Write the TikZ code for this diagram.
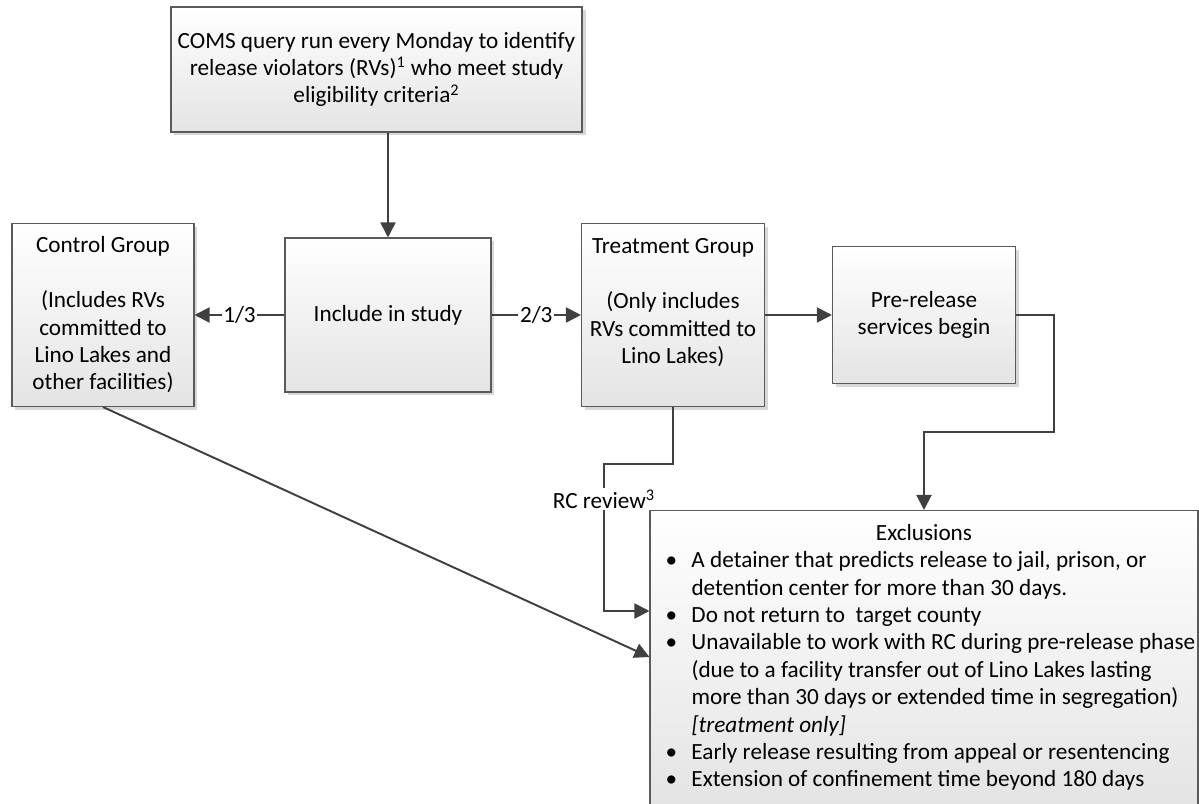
\documentclass[tikz,border=0pt]{standalone}
\usepackage{fontspec}
\setmainfont{Carlito}
\usepackage{tikz}
\usetikzlibrary{positioning,shapes,arrows.meta,shadows}
\definecolor{linegray}{HTML}{404040}
\definecolor{boxline}{HTML}{5A5A5A}
\definecolor{boxgray}{HTML}{E4E4E4}
\newcommand{\flowsize}{\fontsize{13.2}{15.6}\selectfont}
\newcommand{\exbullet}{\makebox[0.8cm][c]{\textbullet}}
\tikzstyle{squared} = [rectangle, draw=boxline, line width=0.6pt, top color=white, bottom color=boxgray, align=center, font=\flowsize, drop shadow={shadow xshift=0.07cm, shadow yshift=-0.07cm, fill=black!30, opacity=0.5}]
\tikzstyle{listbox} = [squared, minimum width=10.96cm, inner xsep=0pt, inner ysep=6pt]
\tikzstyle{connect} = [line width=1.1pt, draw=linegray, -{Triangle[length=0.3cm,width=0.3cm]}]
\tikzstyle{share} = [fill=white, inner sep=1pt, font=\flowsize]

\begin{document}
\begin{tikzpicture}[node distance=5.7cm]
	\useasboundingbox (-7.76,-9.78) rectangle (16.22,6.3);
	\node (include) [squared, minimum width=4.12cm, minimum height=3.08cm] {Include in study};
	\node (coms) [squared, node distance=4.91cm, above of=include, xshift=-0.23cm, minimum width=8.22cm, minimum height=2.5cm] {COMS query run every Monday to identify\\ release violators (RVs)\textsuperscript{1} who meet study\\ eligibility criteria\textsuperscript{2}};
	\node (control) [squared, left of=include, minimum width=3.64cm, minimum height=3.66cm] {Control Group\\[15.6pt] (Includes RVs\\ committed to\\ Lino Lakes and\\ other facilities)};
	\node (treat) [squared, right of=include, minimum width=3.66cm, minimum height=3.66cm] {Treatment Group\\[15.6pt] (Only includes\\ RVs committed to\\ Lino Lakes)\\ \mbox{}};
	\node (pre) [squared, node distance=5.02cm, right of=treat, minimum width=3.66cm, minimum height=2.74cm] {Pre-release\\ services begin};
	\node (excl) [listbox, anchor=north] at ([yshift=-3.9cm]pre.center) {%
		\begin{tabular}{@{}l@{}p{10.1cm}@{}}
		\multicolumn{2}{@{}c@{}}{Exclusions}\\
		\exbullet & A detainer that predicts release to jail, prison, or\newline detention center for more than 30 days.\\
		\exbullet & Do not return to\ \ target county\\
		\exbullet & Unavailable to work with RC during pre-release phase\newline (due to a facility transfer out of Lino Lakes lasting\newline more than 30 days or extended time in segregation)\newline \textit{[treatment only]}\\
		\exbullet & Early release resulting from appeal or resentencing\\
		\exbullet & Extension of confinement time beyond 180 days\\
		\end{tabular}};

	\draw [connect] (coms.south -| include.north) -- (include.north);
	\draw [connect] (include.west) -- node [share] {1/3} (control.east);
	\draw [connect] (include.east) -- node [share] {2/3} (treat.west);
	\draw [connect] (treat.east) -- (pre.west);
	\draw [connect] (pre.east) -- ++(0.76,0) -- ++(0,-2.34) -| (excl.north);
	\draw [connect] (treat.south) -- ++(0,-1.14) -- ++(-1.38,0) |- node [share, pos=0.12] {RC review\textsuperscript{3}} ([yshift=-2.02cm]excl.north west);
	\draw [connect] (control.south) -- ([yshift=-2.94cm]excl.north west);
\end{tikzpicture}
\end{document}
